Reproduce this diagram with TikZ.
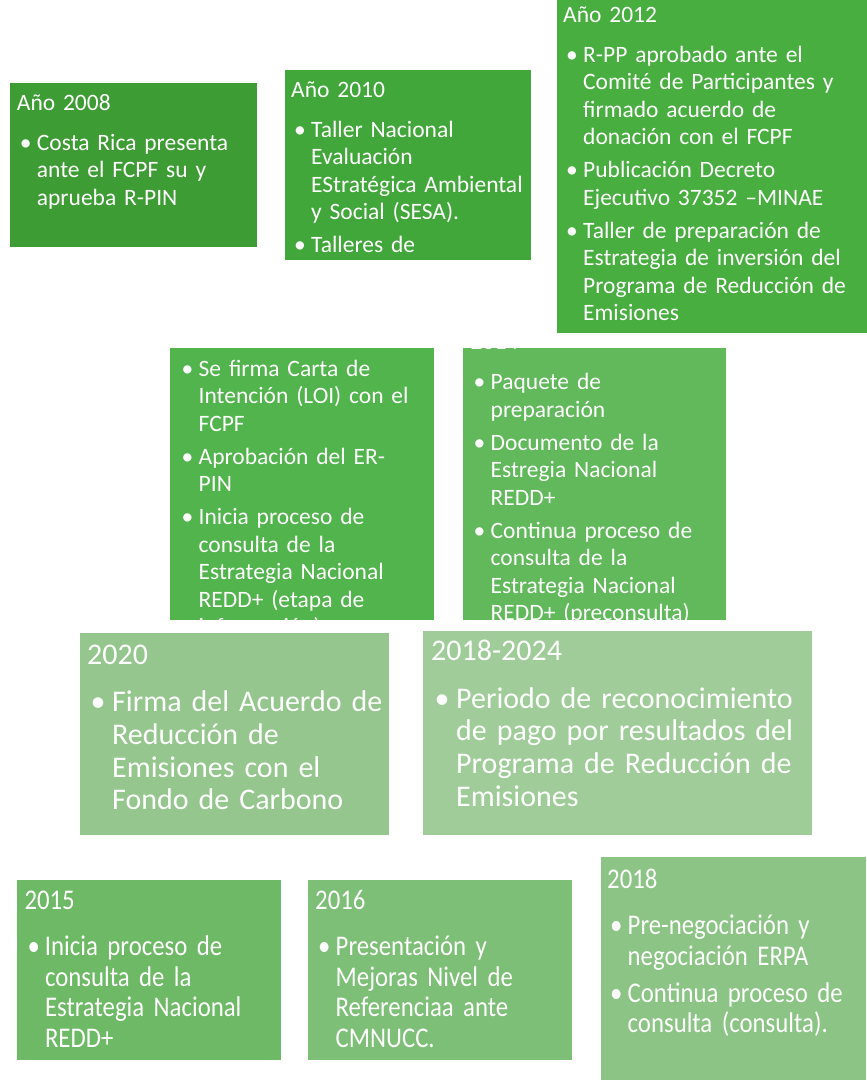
\documentclass[tikz,border=0pt]{standalone}
\usepackage{fontspec}
\setmainfont{Carlito}
\newfontfamily\estrecha[FakeStretch=0.87]{Carlito}
\definecolor{c2008}{RGB}{62,156,52}
\definecolor{c2010}{RGB}{66,167,58}
\definecolor{c2012}{RGB}{72,174,64}
\definecolor{c2013}{RGB}{82,180,76}
\definecolor{c2014}{RGB}{97,185,91}
\definecolor{c2020}{RGB}{148,198,141}
\definecolor{c2024}{RGB}{160,204,153}
\definecolor{c2015}{RGB}{110,185,102}
\definecolor{c2016}{RGB}{125,191,118}
\definecolor{c2018}{RGB}{140,196,133}
\newlength{\brecha}
\newlength{\brechatit}
\newlength{\antes}
\newlength{\sangria}
\newcommand{\anio}[1]{\noindent #1\par\vspace{\brechatit}}
\newcommand{\vin}[1]{\hangindent=\sangria\hangafter=1
    \noindent\hspace*{\antes}\makebox[\dimexpr\sangria-\antes\relax][l]{\textbullet}%
    \begingroup\let\\\newline#1\endgroup\par\vspace{\brecha}}

\begin{document}
\begin{tikzpicture}[x=1pt, y=-1pt,
    hito/.style={anchor=north west, inner sep=0pt, outer sep=0pt},
    txt/.style={anchor=base west, inner sep=0pt, text=white, text width=600pt, align=left,
                font=\fontsize{23.5}{27.5}\selectfont,
                execute at begin node={\setlength{\brecha}{5.5pt}\setlength{\brechatit}{12.5pt}%
                    \setlength{\antes}{3pt}\setlength{\sangria}{20pt}}},
    txtg/.style={txt, font=\fontsize{30}{32.7}\selectfont,
                execute at begin node={\setlength{\brecha}{0pt}\setlength{\brechatit}{15pt}%
                    \setlength{\antes}{3.5pt}\setlength{\sangria}{25pt}}},
    txtb/.style={txt, font=\estrecha\fontsize{28.5}{30.5}\selectfont,
                execute at begin node={\setlength{\brecha}{6.5pt}\setlength{\brechatit}{16pt}%
                    \setlength{\antes}{3pt}\setlength{\sangria}{20.5pt}}}
]
    \fill[white] (0,0) rectangle (867,1082);
    \useasboundingbox (0,0) rectangle (867,1082);

    % Fila superior
    \node[hito, fill=c2008, minimum width=247pt, minimum height=164pt] (b2008) at (10,83) {};
    \node[hito, fill=c2010, minimum width=246pt, minimum height=190pt] (b2010) at (285,70) {};
    \node[hito, fill=c2012, minimum width=310pt, minimum height=333pt] (b2012) at (557,0) {};

    \node[txt] (t2008) at (16.7,110) {\anio{Año 2008}
        \vin{Costa Rica presenta\\ante el FCPF su y\\aprueba R-PIN}};
    \node[txt] (t2010) at (291,97) {\anio{Año 2010}
        \vin{Taller Nacional\\Evaluación\\EStratégica Ambiental\\y Social (SESA).}
        \vin{Talleres de}};
    \node[txt] (t2012) at (563,22) {\anio{Año 2012}
        \vin{R-PP aprobado ante el\\Comité de Participantes y\\firmado acuerdo de\\donación con el FCPF}
        \vin{Publicación Decreto\\Ejecutivo 37352 –MINAE}
        \vin{Taller de preparación de\\Estrategia de inversión del\\Programa de Reducción de\\Emisiones}};

    % Fila central
    \node[hito, fill=c2013, minimum width=264pt, minimum height=272pt] (b2013) at (170,348) {};
    \node[hito, fill=c2014, minimum width=263pt, minimum height=272pt] (b2014) at (463,348) {};
    \begin{scope}
        \clip (b2013.north west) rectangle (b2013.south east);
        \node[txt] (t2013) at (178.5,376) {%
            \vin{Se firma Carta de\\Intención (LOI) con el\\FCPF}
            \vin{Aprobación del ER-\\PIN}
            \vin{Inicia proceso de\\consulta de la\\Estrategia Nacional\\REDD+ (etapa de\\información)}};
    \end{scope}
    \begin{scope}
        \clip (b2014.north west) rectangle (b2014.south east);
        \node[txt] (t2014) at (470.5,349.5) {\anio{2014}
            \vin{Paquete de\\preparación}
            \vin{Documento de la\\Estregia Nacional\\REDD+}
            \vin{Continua proceso de\\consulta de la\\Estrategia Nacional\\REDD+ (preconsulta)}};
    \end{scope}

    % Pago por resultados
    \node[hito, fill=c2020, minimum width=309pt, minimum height=202pt] (b2020) at (80,633) {};
    \node[hito, fill=c2024, minimum width=389pt, minimum height=204pt] (b2024) at (423,631) {};
    \node[txtg] (t2020) at (87,664) {\anio{2020}
        \vin{Firma del Acuerdo de\\Reducción de\\Emisiones con el\\Fondo de Carbono}};
    \node[txtg] (t2024) at (431,660.5) {\anio{2018-2024}
        \vin{Periodo de reconocimiento\\de pago por resultados del\\Programa de Reducción de\\Emisiones}};

    % Fila inferior
    \node[hito, fill=c2015, minimum width=264pt, minimum height=180pt] (b2015) at (17,880) {};
    \node[hito, fill=c2016, minimum width=264pt, minimum height=180pt] (b2016) at (308,880) {};
    \node[hito, fill=c2018, minimum width=265pt, minimum height=223pt] (b2018) at (601,857) {};
    \node[txtb] (t2015) at (24.3,909) {\anio{2015}
        \vin{Inicia proceso de\\consulta de la\\Estrategia Nacional\\REDD+}};
    \node[txtb] (t2016) at (315,909) {\anio{2016}
        \vin{Presentación y\\Mejoras Nivel de\\Referenciaa ante\\CMNUCC.}};
    \node[txtb] (t2018) at (607,888) {\anio{2018}
        \vin{Pre-negociación y\\negociación ERPA}
        \vin{Continua proceso de\\consulta (consulta).}};
\end{tikzpicture}
\end{document}
